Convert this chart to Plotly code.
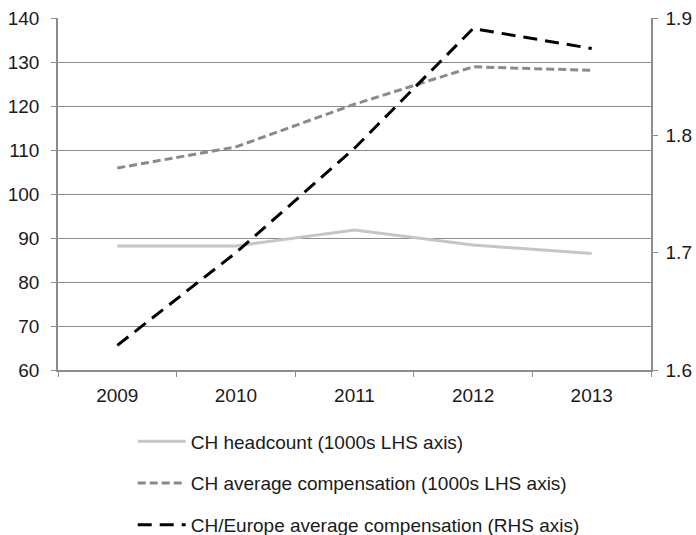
import plotly.graph_objects as go

years = ["2009", "2010", "2011", "2012", "2013"]
headcount = [88.2, 88.2, 91.8, 88.4, 86.5]
avg_comp = [105.9, 110.7, 120.4, 128.9, 128.1]
ch_europe = [1.621, 1.700, 1.789, 1.891, 1.874]

names = [
    "CH headcount (1000s LHS axis)",
    "CH average compensation (1000s LHS axis)",
    "CH/Europe average compensation (RHS axis)",
]

fig = go.Figure()
fig.add_trace(go.Scatter(x=years, y=headcount, name=names[0], mode="lines",
                         line=dict(color="#c6c6c6", width=3), legendgroup="a"))
fig.add_trace(go.Scatter(x=years, y=avg_comp, name=names[1], mode="lines",
                         line=dict(color="#8a8a8a", width=3, dash="8px,4px"), legendgroup="b"))
fig.add_trace(go.Scatter(x=years, y=ch_europe, name=names[2], mode="lines", yaxis="y2",
                         line=dict(color="#000000", width=3, dash="14px,8px"), legendgroup="c"))

font = dict(family="Liberation Sans, Arial, sans-serif", size=19, color="#1a1a1a")
fig.update_layout(
    width=696, height=535,
    margin=dict(l=58, r=45, t=18, b=165, autoexpand=False),
    paper_bgcolor="white", plot_bgcolor="white",
    font=font,
    showlegend=True,
    legend=dict(orientation="v", x=0.126, xanchor="left", y=-0.149, yanchor="top",
                traceorder="grouped", tracegroupgap=14, itemwidth=48, maxheight=400,
                font=font, bgcolor="rgba(0,0,0,0)"),
    xaxis=dict(type="category", showgrid=False, showline=True, linecolor="#8c8c8c", linewidth=1.5,
               ticks="outside", tickson="boundaries", ticklen=5, tickcolor="#8c8c8c",
               range=[-0.5, 4.5], tickfont=font, automargin=False, ticklabelstandoff=7),
    yaxis=dict(range=[60, 140], dtick=10, showgrid=True, gridcolor="#8c8c8c", gridwidth=1,
               showline=True, linecolor="#8c8c8c", linewidth=1.5, ticks="outside", ticklen=5,
               tickcolor="#8c8c8c", zeroline=False, tickfont=font, automargin=False,
               ticklabelstandoff=8, ticklabeloverflow="allow"),
    yaxis2=dict(range=[1.6, 1.9], dtick=0.1, tickformat=".1f", overlaying="y", side="right",
                showgrid=False, showline=True, linecolor="#8c8c8c", linewidth=1.5,
                ticks="outside", ticklen=5, tickcolor="#8c8c8c", zeroline=False, tickfont=font,
                automargin=False, ticklabelstandoff=4, ticklabeloverflow="allow"),
)

fig.write_html("out.html", config={"displayModeBar": False},
               post_script="document.body.style.margin='0';")
